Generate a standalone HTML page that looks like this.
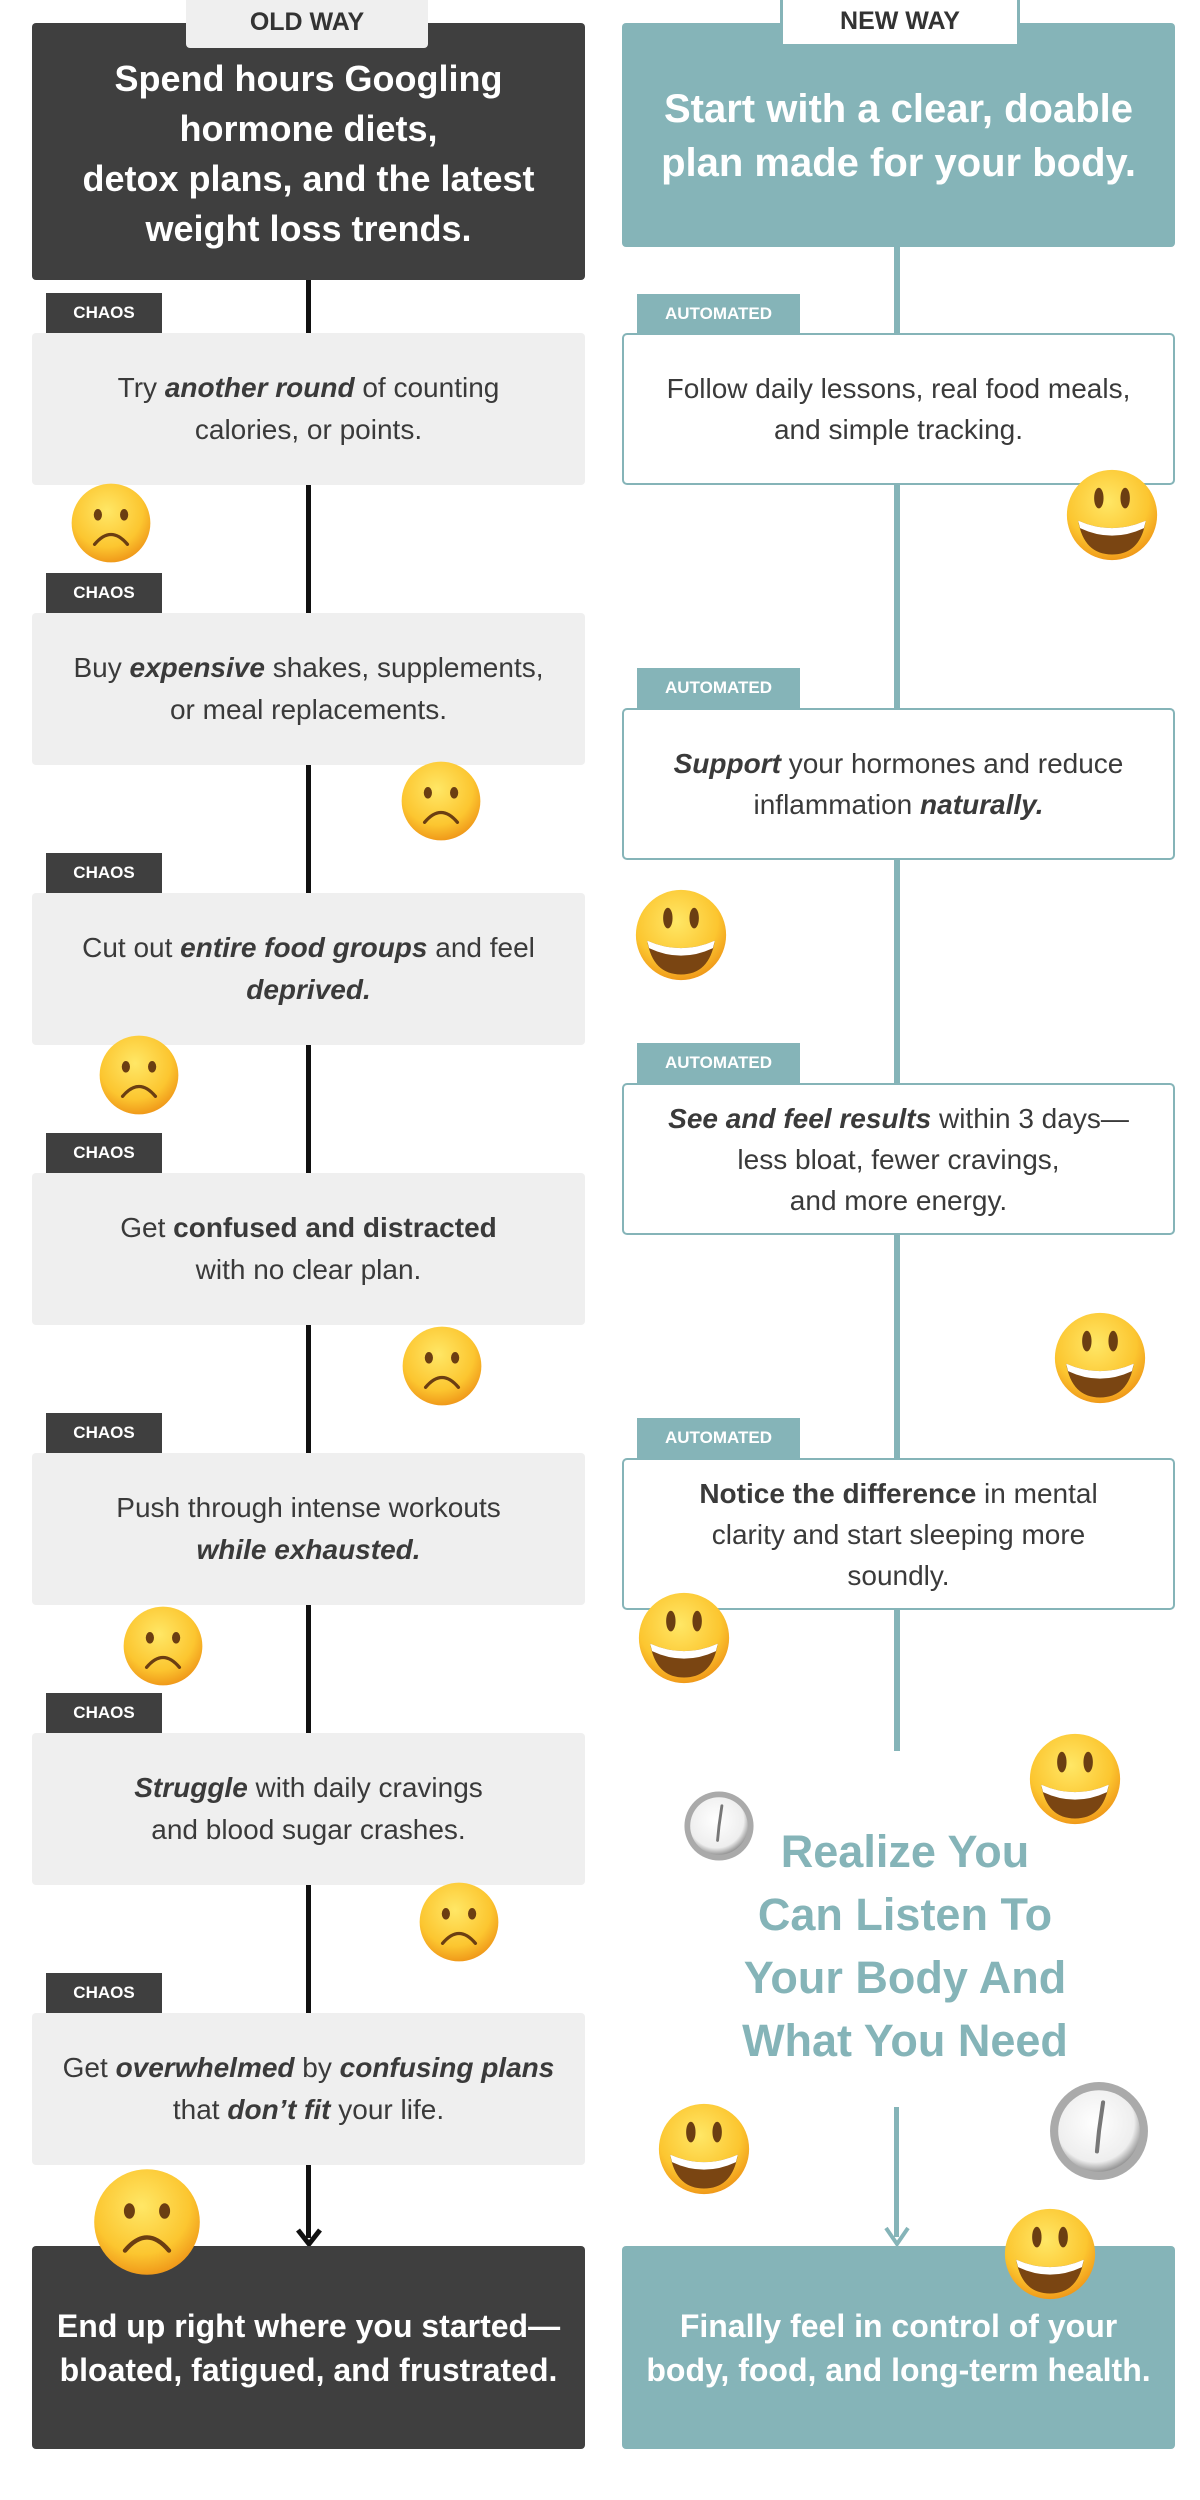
<!DOCTYPE html>
<html><head><meta charset="utf-8"><style>
*{margin:0;padding:0;box-sizing:border-box}
body{width:1200px;height:2500px;background:#fff;position:relative;overflow:hidden;font-family:"Liberation Sans",sans-serif;color:#333}
.a{position:absolute}
.dark{background:#3f3f3f;border-radius:4px;color:#fff;font-weight:bold;text-align:center}
.teal{background:#85b4b8;border-radius:4px;color:#fff;font-weight:bold;text-align:center}
.gray{background:#efefef;border-radius:4px;left:32px;width:553px;height:152px;display:flex;align-items:center;justify-content:center;text-align:center;font-size:28px;line-height:42px;color:#3a3a3a}
.wbox{border:2px solid #85b4b8;border-radius:5px;left:622px;width:553px;height:152px;display:flex;align-items:center;justify-content:center;text-align:center;font-size:28px;line-height:41px;color:#3a3a3a;background:#fff}
.chaos{background:#3f3f3f;color:#fff;left:46px;width:116px;height:40px;font-size:17px;font-weight:bold;display:flex;align-items:center;justify-content:center}
.auto{background:#85b4b8;color:#fff;left:637px;width:163px;height:40px;font-size:17px;font-weight:bold;display:flex;align-items:center;justify-content:center}
b i,i b{font-weight:bold;font-style:italic}
</style></head><body>
<svg width="0" height="0" style="position:absolute">
<defs>
<radialGradient id="yg" cx="45%" cy="35%" r="65%"><stop offset="0" stop-color="#ffe766"/><stop offset="0.7" stop-color="#fcc630"/><stop offset="1" stop-color="#f09a1a"/></radialGradient>
<radialGradient id="cg" cx="45%" cy="40%" r="60%"><stop offset="0" stop-color="#fff"/><stop offset="0.8" stop-color="#eee"/><stop offset="1" stop-color="#999"/></radialGradient>
<symbol id="sad" viewBox="0 0 100 100"><circle cx="50" cy="50" r="48" fill="url(#yg)"/><ellipse cx="34" cy="40" rx="5" ry="7" fill="#6b3e12"/><ellipse cx="66" cy="40" rx="5" ry="7" fill="#6b3e12"/><path d="M30 76 Q50 52 70 76" stroke="#6b3e12" stroke-width="4" fill="none" stroke-linecap="round"/></symbol>
<symbol id="hap" viewBox="0 0 100 100"><circle cx="50" cy="50" r="48" fill="url(#yg)"/><ellipse cx="36" cy="32" rx="5" ry="11" fill="#6b3e12"/><ellipse cx="64" cy="32" rx="5" ry="11" fill="#6b3e12"/><path d="M14 56 Q50 72 86 56 Q80 92 50 92 Q20 92 14 56Z" fill="#7a4512"/><path d="M14 56 Q50 72 86 56 L84 64 Q50 80 16 64Z" fill="#fff"/></symbol>
<symbol id="clk" viewBox="0 0 100 100"><circle cx="50" cy="50" r="48" fill="#aaa"/><circle cx="50" cy="50" r="40" fill="url(#cg)"/><path d="M50 50 L54 22 M50 50 L48 70" stroke="#777" stroke-width="4" stroke-linecap="round"/></symbol>
</defs></svg>

<!-- lines -->
<div class="a" style="left:306px;top:280px;width:5px;height:1958px;background:#111"></div>
<svg class="a" style="left:294px;top:2220px" width="30" height="30"><path d="M4 10 L15 24 L26 10" stroke="#111" stroke-width="5" fill="none"/></svg>
<div class="a" style="left:894px;top:247px;width:6px;height:1504px;background:#85b4b8"></div>
<div class="a" style="left:894px;top:2107px;width:5px;height:130px;background:#85b4b8"></div>
<svg class="a" style="left:882px;top:2218px" width="30" height="30"><path d="M4 10 L15 26 L26 10" stroke="#85b4b8" stroke-width="4" fill="none"/></svg>

<!-- top -->
<div class="a dark" style="left:32px;top:23px;width:553px;height:257px;font-size:36px;line-height:50px;padding-top:31px">Spend hours Googling<br>hormone diets,<br>detox plans, and the latest<br>weight loss trends.</div>
<div class="a" style="left:186px;top:0;width:242px;height:48px;background:#efefef;border-radius:0 0 4px 4px;font-size:25px;font-weight:bold;color:#333;text-align:center;line-height:44px">OLD WAY</div>
<div class="a teal" style="left:622px;top:23px;width:553px;height:224px;font-size:40px;line-height:54px;padding-top:59px">Start with a clear, doable<br>plan made for your body.</div>
<div class="a" style="left:780px;top:0;width:240px;height:47px;background:#fff;border:3px solid #85b4b8;border-top:none;font-size:25px;font-weight:bold;color:#333;text-align:center;line-height:42px">NEW WAY</div>

<!-- left column -->
<div class="a chaos" style="top:293px">CHAOS</div>
<div class="a gray" style="top:333px"><div>Try <b><i>another round</i></b> of counting<br>calories, or points.</div></div>
<div class="a chaos" style="top:573px">CHAOS</div>
<div class="a gray" style="top:613px"><div>Buy <b><i>expensive</i></b> shakes, supplements,<br>or meal replacements.</div></div>
<div class="a chaos" style="top:853px">CHAOS</div>
<div class="a gray" style="top:893px"><div>Cut out <b><i>entire food groups</i></b> and feel<br><b><i>deprived.</i></b></div></div>
<div class="a chaos" style="top:1133px">CHAOS</div>
<div class="a gray" style="top:1173px"><div>Get <b>confused and distracted</b><br>with no clear plan.</div></div>
<div class="a chaos" style="top:1413px">CHAOS</div>
<div class="a gray" style="top:1453px"><div>Push through intense workouts<br><b><i>while exhausted.</i></b></div></div>
<div class="a chaos" style="top:1693px">CHAOS</div>
<div class="a gray" style="top:1733px"><div><b><i>Struggle</i></b> with daily cravings<br>and blood sugar crashes.</div></div>
<div class="a chaos" style="top:1973px">CHAOS</div>
<div class="a gray" style="top:2013px"><div>Get <b><i>overwhelmed</i></b> by <b><i>confusing plans</i></b><br>that <b><i>don’t fit</i></b> your life.</div></div>

<!-- right column -->
<div class="a auto" style="top:294px">AUTOMATED</div>
<div class="a wbox" style="top:333px"><div>Follow daily lessons, real food meals,<br>and simple tracking.</div></div>
<div class="a auto" style="top:668px">AUTOMATED</div>
<div class="a wbox" style="top:708px"><div><b><i>Support</i></b> your hormones and reduce<br>inflammation <b><i>naturally.</i></b></div></div>
<div class="a auto" style="top:1043px">AUTOMATED</div>
<div class="a wbox" style="top:1083px"><div><b><i>See and feel results</i></b> within 3 days—<br>less bloat, fewer cravings,<br>and more energy.</div></div>
<div class="a auto" style="top:1418px">AUTOMATED</div>
<div class="a wbox" style="top:1458px"><div><b>Notice the difference</b> in mental<br>clarity and start sleeping more<br>soundly.</div></div>

<div class="a" style="left:700px;top:1820px;width:410px;text-align:center;font-size:45px;line-height:63px;font-weight:bold;color:#85b4b8">Realize You<br>Can Listen To<br>Your Body And<br>What You Need</div>

<!-- bottom -->
<div class="a dark" style="left:32px;top:2246px;width:553px;height:203px;font-size:32px;line-height:44px;padding-top:58px">End up right where you started—<br>bloated, fatigued, and frustrated.</div>
<div class="a teal" style="left:622px;top:2246px;width:553px;height:203px;font-size:32px;line-height:44px;padding-top:58px">Finally feel in control of your<br>body, food, and long-term health.</div>

<!-- emojis -->
<svg class="a" style="left:70px;top:482px" width="82" height="82"><use href="#sad"/></svg>
<svg class="a" style="left:400px;top:760px" width="82" height="82"><use href="#sad"/></svg>
<svg class="a" style="left:98px;top:1034px" width="82" height="82"><use href="#sad"/></svg>
<svg class="a" style="left:401px;top:1325px" width="82" height="82"><use href="#sad"/></svg>
<svg class="a" style="left:122px;top:1605px" width="82" height="82"><use href="#sad"/></svg>
<svg class="a" style="left:418px;top:1881px" width="82" height="82"><use href="#sad"/></svg>
<svg class="a" style="left:92px;top:2167px" width="110" height="110"><use href="#sad"/></svg>

<svg class="a" style="left:1065px;top:468px" width="94" height="94"><use href="#hap"/></svg>
<svg class="a" style="left:634px;top:888px" width="94" height="94"><use href="#hap"/></svg>
<svg class="a" style="left:1053px;top:1311px" width="94" height="94"><use href="#hap"/></svg>
<svg class="a" style="left:637px;top:1591px" width="94" height="94"><use href="#hap"/></svg>
<svg class="a" style="left:1028px;top:1732px" width="94" height="94"><use href="#hap"/></svg>
<svg class="a" style="left:657px;top:2102px" width="94" height="94"><use href="#hap"/></svg>
<svg class="a" style="left:1003px;top:2207px" width="94" height="94"><use href="#hap"/></svg>

<svg class="a" style="left:683px;top:1790px" width="72" height="72"><use href="#clk"/></svg>
<svg class="a" style="left:1048px;top:2080px" width="102" height="102"><use href="#clk"/></svg>
</body></html>
